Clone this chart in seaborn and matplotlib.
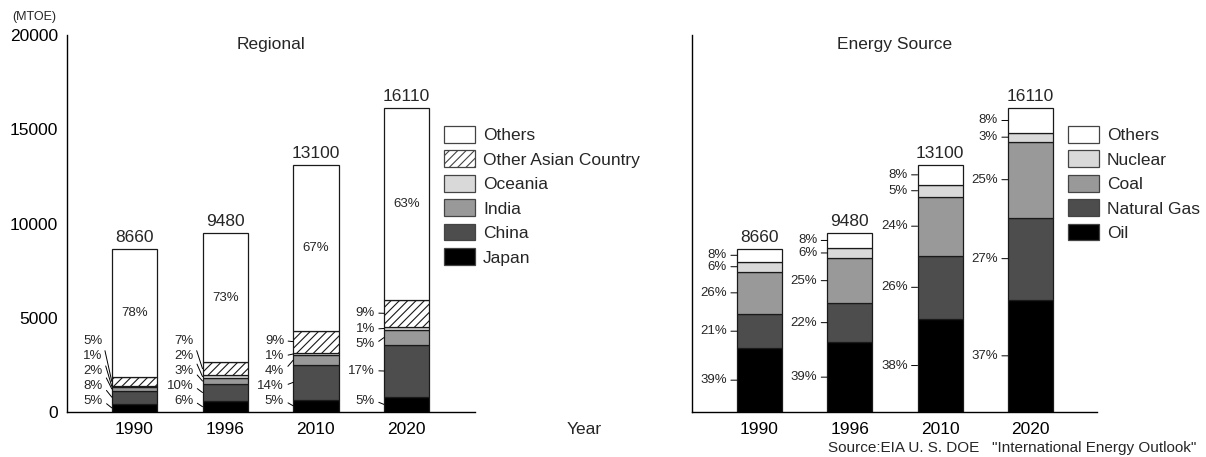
import numpy as np
import pandas as pd
import matplotlib
matplotlib.use('Agg')
import matplotlib.pyplot as plt
from matplotlib.patches import Patch
import seaborn as sns

# ---------------- data ----------------
years = ['1990', '1996', '2010', '2020']
totals = [8660, 9480, 13100, 16110]

# Regional shares (%), bottom to top
regional_names = ['Japan', 'China', 'India', 'Oceania', 'Other Asian Country', 'Others']
japan_pct = [5, 6, 5, 5]
china_pct = [8, 10, 14, 17]
india_pct = [2, 3, 4, 5]
oceania_pct = [1, 2, 1, 1]
other_asian_pct = [5, 7, 9, 9]
others_reg_pct = [78, 73, 67, 63]

# Energy source shares (%), bottom to top
source_names = ['Oil', 'Natural Gas', 'Coal', 'Nuclear', 'Others']
oil_pct = [39, 39, 38, 37]
gas_pct = [21, 22, 26, 27]
coal_pct = [26, 25, 24, 25]
nuclear_pct = [6, 6, 5, 3]
others_src_pct = [8, 8, 8, 8]

yticks = [0, 5000, 10000, 15000, 20000]

# ---------------- style ----------------
sns.set_style('white')
plt.rcParams['font.family'] = ['Liberation Sans', 'DejaVu Sans']
plt.rcParams['hatch.linewidth'] = 0.8
plt.rcParams['hatch.color'] = 'black'

FS = 12.5
FS_SMALL = 9.5
EDGE = '#1a1a1a'
reg_colors = ['#000000', '#4d4d4d', '#999999', '#d9d9d9', '#ffffff', '#ffffff']
reg_hatch = [None, None, None, None, '////', None]
src_colors = ['#000000', '#4d4d4d', '#999999', '#d9d9d9', '#ffffff']

W, H = 1206, 457
fig = plt.figure(figsize=(W / 100, H / 100), dpi=100)
ax1 = fig.add_axes([67 / W, 45 / H, 408 / W, 377 / H])
ax2 = fig.add_axes([692 / W, 45 / H, 405 / W, 377 / H])

BAR_W = 0.5


def stacked(ax, pcts, colors, hatches):
    p = np.array(pcts, dtype=float)
    vals = p / p.sum(axis=0) * np.array(totals, dtype=float)
    bottoms = np.zeros(len(years))
    mids = []
    for i in range(len(pcts)):
        df = pd.DataFrame({'Year': years, 'MTOE': vals[i]})
        sns.barplot(data=df, x='Year', y='MTOE', color=colors[i], bottom=bottoms.copy(),
                    width=BAR_W, saturation=1, edgecolor=EDGE, linewidth=0.9,
                    hatch=hatches[i] if hatches else None, errorbar=None, ax=ax)
        mids.append(bottoms + vals[i] / 2)
        bottoms = bottoms + vals[i]
    return vals, np.array(mids)


reg_pcts = [japan_pct, china_pct, india_pct, oceania_pct, other_asian_pct, others_reg_pct]
src_pcts = [oil_pct, gas_pct, coal_pct, nuclear_pct, others_src_pct]

rvals, rmids = stacked(ax1, reg_pcts, reg_colors, reg_hatch)
svals, smids = stacked(ax2, src_pcts, src_colors, None)

arrow = dict(arrowstyle='-', color='black', lw=0.7, shrinkA=0.5, shrinkB=0, relpos=(1, 0.5))

# Regional small labels (layout slots for crowded bars)
slots_std = [600, 1390, 2190, 2970, 3780]
slots_last = [600, 2190, 3600, 4400, 5250]
for i in range(len(years)):
    slots = slots_last if i == len(years) - 1 else slots_std
    for j in range(5):
        ax1.annotate(f'{reg_pcts[j][i]}%', xy=(i - BAR_W / 2, rmids[j][i]),
                     xytext=(i - BAR_W / 2 - 0.1, slots[j]), textcoords='data',
                     ha='right', va='center', fontsize=FS_SMALL, arrowprops=arrow)
    ax1.text(i, rmids[5][i], f'{reg_pcts[5][i]}%', ha='center', va='center', fontsize=FS_SMALL)
    ax1.annotate(f'{totals[i]}', xy=(i, totals[i]), xytext=(0, 3),
                 textcoords='offset points', ha='center', va='bottom', fontsize=FS)

for i in range(len(years)):
    for j in range(5):
        ax2.annotate(f'{src_pcts[j][i]}%', xy=(i - BAR_W / 2, smids[j][i]),
                     xytext=(i - BAR_W / 2 - 0.11, smids[j][i]), textcoords='data',
                     ha='right', va='center', fontsize=FS_SMALL, arrowprops=arrow)
    ax2.annotate(f'{totals[i]}', xy=(i, totals[i]), xytext=(0, 3),
                 textcoords='offset points', ha='center', va='bottom', fontsize=FS)

for ax in (ax1, ax2):
    ax.set_ylim(0, 20000)
    ax.set_xlabel('')
    ax.set_ylabel('')
    sns.despine(ax=ax)
    for s in ('left', 'bottom'):
        ax.spines[s].set_color('black')
        ax.spines[s].set_linewidth(1.0)
    ax.tick_params(length=0, labelsize=FS, colors='black')
    ax.tick_params(axis='x', pad=7)
    ax.tick_params(axis='y', pad=6.5)
    ax.grid(False)

ax1.set_xlim(-0.744, 3.754)
ax2.set_xlim(-0.747, 3.737)
ax1.set_yticks(yticks)
ax1.set_yticklabels([str(v) for v in yticks])
ax2.set_yticks([])

ax1.text(0.5, 0.976, 'Regional', transform=ax1.transAxes, ha='center', va='center', fontsize=FS)
ax2.text(0.5, 0.976, 'Energy Source', transform=ax2.transAxes, ha='center', va='center', fontsize=FS)

fig.text(12 / W, 1 - 17 / H, '(MTOE)', ha='left', va='center', fontsize=9)
fig.text(584 / W, 1 - 429 / H, 'Year', ha='center', va='center', fontsize=FS)
fig.text(1196 / W, 1 - 448 / H, 'Source:EIA U. S. DOE   "International Energy Outlook"',
         ha='right', va='center', fontsize=11)

# Legends
leg_kw = dict(frameon=False, fontsize=FS, handlelength=1.78, handleheight=1.09,
              handletextpad=0.46, labelspacing=0.42, borderpad=0, borderaxespad=0,
              loc='upper left')
reg_handles = [Patch(facecolor=reg_colors[j], edgecolor='#444444', linewidth=0.9,
                     hatch=reg_hatch[j], label=regional_names[j]) for j in range(5, -1, -1)]
src_handles = [Patch(facecolor=src_colors[j], edgecolor='#444444', linewidth=0.9,
                     label=source_names[j]) for j in range(4, -1, -1)]
fig.legend(handles=reg_handles, bbox_to_anchor=(444 / W, 1 - 126 / H), **leg_kw)
fig.legend(handles=src_handles, bbox_to_anchor=(1068 / W, 1 - 126 / H), **leg_kw)

fig.savefig('out.png', dpi=100)
